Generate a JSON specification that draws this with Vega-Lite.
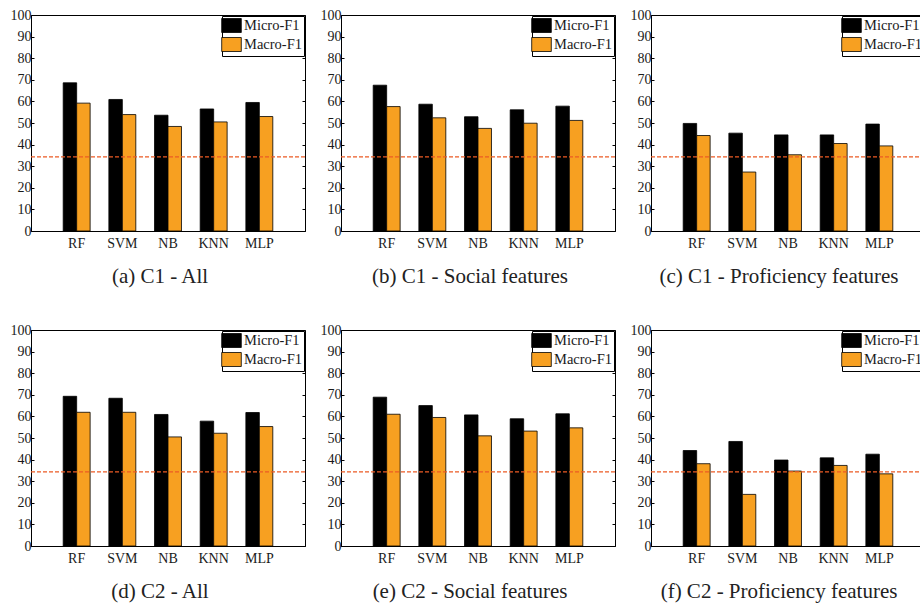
{
  "$schema": "https://vega.github.io/schema/vega-lite/v6.json",
  "padding": {"left": 9, "top": 7, "right": 0, "bottom": 0},
  "background": "white",
  "datasets": {
    "scores": [
      {"panel": "a", "model": "RF", "metric": "Micro-F1", "value": 68.6},
      {"panel": "a", "model": "RF", "metric": "Macro-F1", "value": 59.2},
      {"panel": "a", "model": "SVM", "metric": "Micro-F1", "value": 60.9},
      {"panel": "a", "model": "SVM", "metric": "Macro-F1", "value": 53.9},
      {"panel": "a", "model": "NB", "metric": "Micro-F1", "value": 53.6},
      {"panel": "a", "model": "NB", "metric": "Macro-F1", "value": 48.4},
      {"panel": "a", "model": "KNN", "metric": "Micro-F1", "value": 56.5},
      {"panel": "a", "model": "KNN", "metric": "Macro-F1", "value": 50.5},
      {"panel": "a", "model": "MLP", "metric": "Micro-F1", "value": 59.5},
      {"panel": "a", "model": "MLP", "metric": "Macro-F1", "value": 53.0},
      {"panel": "b", "model": "RF", "metric": "Micro-F1", "value": 67.5},
      {"panel": "b", "model": "RF", "metric": "Macro-F1", "value": 57.6},
      {"panel": "b", "model": "SVM", "metric": "Micro-F1", "value": 58.7},
      {"panel": "b", "model": "SVM", "metric": "Macro-F1", "value": 52.4},
      {"panel": "b", "model": "NB", "metric": "Micro-F1", "value": 52.9},
      {"panel": "b", "model": "NB", "metric": "Macro-F1", "value": 47.5},
      {"panel": "b", "model": "KNN", "metric": "Micro-F1", "value": 56.1},
      {"panel": "b", "model": "KNN", "metric": "Macro-F1", "value": 49.9},
      {"panel": "b", "model": "MLP", "metric": "Micro-F1", "value": 57.8},
      {"panel": "b", "model": "MLP", "metric": "Macro-F1", "value": 51.2},
      {"panel": "c", "model": "RF", "metric": "Micro-F1", "value": 49.8},
      {"panel": "c", "model": "RF", "metric": "Macro-F1", "value": 44.2},
      {"panel": "c", "model": "SVM", "metric": "Micro-F1", "value": 45.3},
      {"panel": "c", "model": "SVM", "metric": "Macro-F1", "value": 27.3},
      {"panel": "c", "model": "NB", "metric": "Micro-F1", "value": 44.5},
      {"panel": "c", "model": "NB", "metric": "Macro-F1", "value": 35.3},
      {"panel": "c", "model": "KNN", "metric": "Micro-F1", "value": 44.5},
      {"panel": "c", "model": "KNN", "metric": "Macro-F1", "value": 40.5},
      {"panel": "c", "model": "MLP", "metric": "Micro-F1", "value": 49.5},
      {"panel": "c", "model": "MLP", "metric": "Macro-F1", "value": 39.4},
      {"panel": "d", "model": "RF", "metric": "Micro-F1", "value": 69.3},
      {"panel": "d", "model": "RF", "metric": "Macro-F1", "value": 61.9},
      {"panel": "d", "model": "SVM", "metric": "Micro-F1", "value": 68.4},
      {"panel": "d", "model": "SVM", "metric": "Macro-F1", "value": 61.9},
      {"panel": "d", "model": "NB", "metric": "Micro-F1", "value": 60.9},
      {"panel": "d", "model": "NB", "metric": "Macro-F1", "value": 50.5},
      {"panel": "d", "model": "KNN", "metric": "Micro-F1", "value": 57.8},
      {"panel": "d", "model": "KNN", "metric": "Macro-F1", "value": 52.2},
      {"panel": "d", "model": "MLP", "metric": "Micro-F1", "value": 61.8},
      {"panel": "d", "model": "MLP", "metric": "Macro-F1", "value": 55.3},
      {"panel": "e", "model": "RF", "metric": "Micro-F1", "value": 68.9},
      {"panel": "e", "model": "RF", "metric": "Macro-F1", "value": 61.0},
      {"panel": "e", "model": "SVM", "metric": "Micro-F1", "value": 65.0},
      {"panel": "e", "model": "SVM", "metric": "Macro-F1", "value": 59.5},
      {"panel": "e", "model": "NB", "metric": "Micro-F1", "value": 60.7},
      {"panel": "e", "model": "NB", "metric": "Macro-F1", "value": 51.0},
      {"panel": "e", "model": "KNN", "metric": "Micro-F1", "value": 58.9},
      {"panel": "e", "model": "KNN", "metric": "Macro-F1", "value": 53.2},
      {"panel": "e", "model": "MLP", "metric": "Micro-F1", "value": 61.2},
      {"panel": "e", "model": "MLP", "metric": "Macro-F1", "value": 54.7},
      {"panel": "f", "model": "RF", "metric": "Micro-F1", "value": 44.2},
      {"panel": "f", "model": "RF", "metric": "Macro-F1", "value": 38.1},
      {"panel": "f", "model": "SVM", "metric": "Micro-F1", "value": 48.4},
      {"panel": "f", "model": "SVM", "metric": "Macro-F1", "value": 23.9},
      {"panel": "f", "model": "NB", "metric": "Micro-F1", "value": 39.8},
      {"panel": "f", "model": "NB", "metric": "Macro-F1", "value": 34.7},
      {"panel": "f", "model": "KNN", "metric": "Micro-F1", "value": 40.8},
      {"panel": "f", "model": "KNN", "metric": "Macro-F1", "value": 37.3},
      {"panel": "f", "model": "MLP", "metric": "Micro-F1", "value": 42.5},
      {"panel": "f", "model": "MLP", "metric": "Macro-F1", "value": 33.4}
    ],
    "baseline": [{"level": 34.3}]
  },
  "config": {
    "font": "Liberation Serif",
    "view": {"stroke": "black", "strokeWidth": 1},
    "axis": {
      "labelFont": "Liberation Serif",
      "labelFontSize": 14,
      "labelColor": "#1a1a1a",
      "domainColor": "black",
      "tickColor": "black",
      "grid": false,
      "title": null,
      "labelOverlap": false
    },
    "legend": {
      "orient": "top-right",
      "offset": 1,
      "padding": 2,
      "strokeColor": "black",
      "fillColor": "white",
      "symbolType": "M-1.4,-1H1.4V1H-1.4Z",
      "symbolSize": 196,
      "symbolStrokeColor": "black",
      "symbolStrokeWidth": 0.8,
      "symbolOpacity": 1,
      "labelFont": "Liberation Serif",
      "labelFontSize": 14.5,
      "labelColor": "#1a1a1a",
      "labelOffset": 5,
      "rowPadding": 0
    },
    "title": {
      "orient": "bottom",
      "font": "Liberation Serif",
      "fontSize": 21,
      "fontWeight": "normal",
      "color": "#222222",
      "offset": 16
    }
  },
  "resolve": {"scale": {"color": "independent"}, "legend": {"color": "independent"}},
  "columns": 3,
  "spacing": {"row": 34, "column": 12},
  "concat": [
    {
      "title": {"text": "(a) C1 - All", "dx": -8},
      "width": 274, "height": 216,
      "resolve": {"axis": {"y": "independent"}},
      "layer": [
        {
          "data": {"name": "scores"},
          "transform": [{"filter": "datum.panel === 'a'"}],
          "mark": {"type": "bar", "stroke": "black", "strokeWidth": 0.8},
          "encoding": {
            "x": {"field": "model", "type": "nominal", "sort": ["RF", "SVM", "NB", "KNN", "MLP"], "scale": {"paddingInner": 0.41, "paddingOuter": 0.705}, "axis": {"labelAngle": 0, "ticks": false, "labelPadding": 5}},
            "xOffset": {"field": "metric", "type": "nominal", "sort": ["Micro-F1", "Macro-F1"], "scale": {"paddingInner": 0, "paddingOuter": 0}},
            "y": {"field": "value", "type": "quantitative", "scale": {"domain": [0, 100], "nice": false}, "axis": {"orient": "left", "values": [0, 10, 20, 30, 40, 50, 60, 70, 80, 90, 100], "tickSize": -3, "labelPadding": 3}},
            "color": {"field": "metric", "type": "nominal", "sort": ["Micro-F1", "Macro-F1"], "scale": {"domain": ["Micro-F1", "Macro-F1"], "range": ["#000000", "#F7A021"]}, "legend": {"title": null, "orient": "top-right"}}
          }
        },
        {
          "data": {"name": "baseline"},
          "mark": {"type": "rule", "color": "#EC5B24", "strokeDash": [4, 2], "strokeWidth": 1.1},
          "encoding": {"y": {"field": "level", "type": "quantitative", "scale": {"domain": [0, 100], "nice": false}, "axis": {"orient": "right", "values": [0, 10, 20, 30, 40, 50, 60, 70, 80, 90, 100], "tickSize": -3, "labels": false, "domain": false}}}
        }
      ]
    },
    {
      "title": {"text": "(b) C1 - Social features", "dx": -8},
      "width": 274, "height": 216,
      "resolve": {"axis": {"y": "independent"}},
      "layer": [
        {
          "data": {"name": "scores"},
          "transform": [{"filter": "datum.panel === 'b'"}],
          "mark": {"type": "bar", "stroke": "black", "strokeWidth": 0.8},
          "encoding": {
            "x": {"field": "model", "type": "nominal", "sort": ["RF", "SVM", "NB", "KNN", "MLP"], "scale": {"paddingInner": 0.41, "paddingOuter": 0.705}, "axis": {"labelAngle": 0, "ticks": false, "labelPadding": 5}},
            "xOffset": {"field": "metric", "type": "nominal", "sort": ["Micro-F1", "Macro-F1"], "scale": {"paddingInner": 0, "paddingOuter": 0}},
            "y": {"field": "value", "type": "quantitative", "scale": {"domain": [0, 100], "nice": false}, "axis": {"orient": "left", "values": [0, 10, 20, 30, 40, 50, 60, 70, 80, 90, 100], "tickSize": -3, "labelPadding": 3}},
            "color": {"field": "metric", "type": "nominal", "sort": ["Micro-F1", "Macro-F1"], "scale": {"domain": ["Micro-F1", "Macro-F1"], "range": ["#000000", "#F7A021"]}, "legend": {"title": null, "orient": "top-right"}}
          }
        },
        {
          "data": {"name": "baseline"},
          "mark": {"type": "rule", "color": "#EC5B24", "strokeDash": [4, 2], "strokeWidth": 1.1},
          "encoding": {"y": {"field": "level", "type": "quantitative", "scale": {"domain": [0, 100], "nice": false}, "axis": {"orient": "right", "values": [0, 10, 20, 30, 40, 50, 60, 70, 80, 90, 100], "tickSize": -3, "labels": false, "domain": false}}}
        }
      ]
    },
    {
      "title": {"text": "(c) C1 - Proficiency features", "dx": -9},
      "width": 274, "height": 216,
      "resolve": {"axis": {"y": "independent"}},
      "layer": [
        {
          "data": {"name": "scores"},
          "transform": [{"filter": "datum.panel === 'c'"}],
          "mark": {"type": "bar", "stroke": "black", "strokeWidth": 0.8},
          "encoding": {
            "x": {"field": "model", "type": "nominal", "sort": ["RF", "SVM", "NB", "KNN", "MLP"], "scale": {"paddingInner": 0.41, "paddingOuter": 0.705}, "axis": {"labelAngle": 0, "ticks": false, "labelPadding": 5}},
            "xOffset": {"field": "metric", "type": "nominal", "sort": ["Micro-F1", "Macro-F1"], "scale": {"paddingInner": 0, "paddingOuter": 0}},
            "y": {"field": "value", "type": "quantitative", "scale": {"domain": [0, 100], "nice": false}, "axis": {"orient": "left", "values": [0, 10, 20, 30, 40, 50, 60, 70, 80, 90, 100], "tickSize": -3, "labelPadding": 3}},
            "color": {"field": "metric", "type": "nominal", "sort": ["Micro-F1", "Macro-F1"], "scale": {"domain": ["Micro-F1", "Macro-F1"], "range": ["#000000", "#F7A021"]}, "legend": {"title": null, "orient": "top-right"}}
          }
        },
        {
          "data": {"name": "baseline"},
          "mark": {"type": "rule", "color": "#EC5B24", "strokeDash": [4, 2], "strokeWidth": 1.1},
          "encoding": {"y": {"field": "level", "type": "quantitative", "scale": {"domain": [0, 100], "nice": false}, "axis": {"orient": "right", "values": [0, 10, 20, 30, 40, 50, 60, 70, 80, 90, 100], "tickSize": -3, "labels": false, "domain": false}}}
        }
      ]
    },
    {
      "title": {"text": "(d) C2 - All", "dx": -8},
      "width": 274, "height": 216,
      "resolve": {"axis": {"y": "independent"}},
      "layer": [
        {
          "data": {"name": "scores"},
          "transform": [{"filter": "datum.panel === 'd'"}],
          "mark": {"type": "bar", "stroke": "black", "strokeWidth": 0.8},
          "encoding": {
            "x": {"field": "model", "type": "nominal", "sort": ["RF", "SVM", "NB", "KNN", "MLP"], "scale": {"paddingInner": 0.41, "paddingOuter": 0.705}, "axis": {"labelAngle": 0, "ticks": false, "labelPadding": 5}},
            "xOffset": {"field": "metric", "type": "nominal", "sort": ["Micro-F1", "Macro-F1"], "scale": {"paddingInner": 0, "paddingOuter": 0}},
            "y": {"field": "value", "type": "quantitative", "scale": {"domain": [0, 100], "nice": false}, "axis": {"orient": "left", "values": [0, 10, 20, 30, 40, 50, 60, 70, 80, 90, 100], "tickSize": -3, "labelPadding": 3}},
            "color": {"field": "metric", "type": "nominal", "sort": ["Micro-F1", "Macro-F1"], "scale": {"domain": ["Micro-F1", "Macro-F1"], "range": ["#000000", "#F7A021"]}, "legend": {"title": null, "orient": "top-right"}}
          }
        },
        {
          "data": {"name": "baseline"},
          "mark": {"type": "rule", "color": "#EC5B24", "strokeDash": [4, 2], "strokeWidth": 1.1},
          "encoding": {"y": {"field": "level", "type": "quantitative", "scale": {"domain": [0, 100], "nice": false}, "axis": {"orient": "right", "values": [0, 10, 20, 30, 40, 50, 60, 70, 80, 90, 100], "tickSize": -3, "labels": false, "domain": false}}}
        }
      ]
    },
    {
      "title": {"text": "(e) C2 - Social features", "dx": -8},
      "width": 274, "height": 216,
      "resolve": {"axis": {"y": "independent"}},
      "layer": [
        {
          "data": {"name": "scores"},
          "transform": [{"filter": "datum.panel === 'e'"}],
          "mark": {"type": "bar", "stroke": "black", "strokeWidth": 0.8},
          "encoding": {
            "x": {"field": "model", "type": "nominal", "sort": ["RF", "SVM", "NB", "KNN", "MLP"], "scale": {"paddingInner": 0.41, "paddingOuter": 0.705}, "axis": {"labelAngle": 0, "ticks": false, "labelPadding": 5}},
            "xOffset": {"field": "metric", "type": "nominal", "sort": ["Micro-F1", "Macro-F1"], "scale": {"paddingInner": 0, "paddingOuter": 0}},
            "y": {"field": "value", "type": "quantitative", "scale": {"domain": [0, 100], "nice": false}, "axis": {"orient": "left", "values": [0, 10, 20, 30, 40, 50, 60, 70, 80, 90, 100], "tickSize": -3, "labelPadding": 3}},
            "color": {"field": "metric", "type": "nominal", "sort": ["Micro-F1", "Macro-F1"], "scale": {"domain": ["Micro-F1", "Macro-F1"], "range": ["#000000", "#F7A021"]}, "legend": {"title": null, "orient": "top-right"}}
          }
        },
        {
          "data": {"name": "baseline"},
          "mark": {"type": "rule", "color": "#EC5B24", "strokeDash": [4, 2], "strokeWidth": 1.1},
          "encoding": {"y": {"field": "level", "type": "quantitative", "scale": {"domain": [0, 100], "nice": false}, "axis": {"orient": "right", "values": [0, 10, 20, 30, 40, 50, 60, 70, 80, 90, 100], "tickSize": -3, "labels": false, "domain": false}}}
        }
      ]
    },
    {
      "title": {"text": "(f) C2 - Proficiency features", "dx": -9},
      "width": 274, "height": 216,
      "resolve": {"axis": {"y": "independent"}},
      "layer": [
        {
          "data": {"name": "scores"},
          "transform": [{"filter": "datum.panel === 'f'"}],
          "mark": {"type": "bar", "stroke": "black", "strokeWidth": 0.8},
          "encoding": {
            "x": {"field": "model", "type": "nominal", "sort": ["RF", "SVM", "NB", "KNN", "MLP"], "scale": {"paddingInner": 0.41, "paddingOuter": 0.705}, "axis": {"labelAngle": 0, "ticks": false, "labelPadding": 5}},
            "xOffset": {"field": "metric", "type": "nominal", "sort": ["Micro-F1", "Macro-F1"], "scale": {"paddingInner": 0, "paddingOuter": 0}},
            "y": {"field": "value", "type": "quantitative", "scale": {"domain": [0, 100], "nice": false}, "axis": {"orient": "left", "values": [0, 10, 20, 30, 40, 50, 60, 70, 80, 90, 100], "tickSize": -3, "labelPadding": 3}},
            "color": {"field": "metric", "type": "nominal", "sort": ["Micro-F1", "Macro-F1"], "scale": {"domain": ["Micro-F1", "Macro-F1"], "range": ["#000000", "#F7A021"]}, "legend": {"title": null, "orient": "top-right"}}
          }
        },
        {
          "data": {"name": "baseline"},
          "mark": {"type": "rule", "color": "#EC5B24", "strokeDash": [4, 2], "strokeWidth": 1.1},
          "encoding": {"y": {"field": "level", "type": "quantitative", "scale": {"domain": [0, 100], "nice": false}, "axis": {"orient": "right", "values": [0, 10, 20, 30, 40, 50, 60, 70, 80, 90, 100], "tickSize": -3, "labels": false, "domain": false}}}
        }
      ]
    }
  ]
}
